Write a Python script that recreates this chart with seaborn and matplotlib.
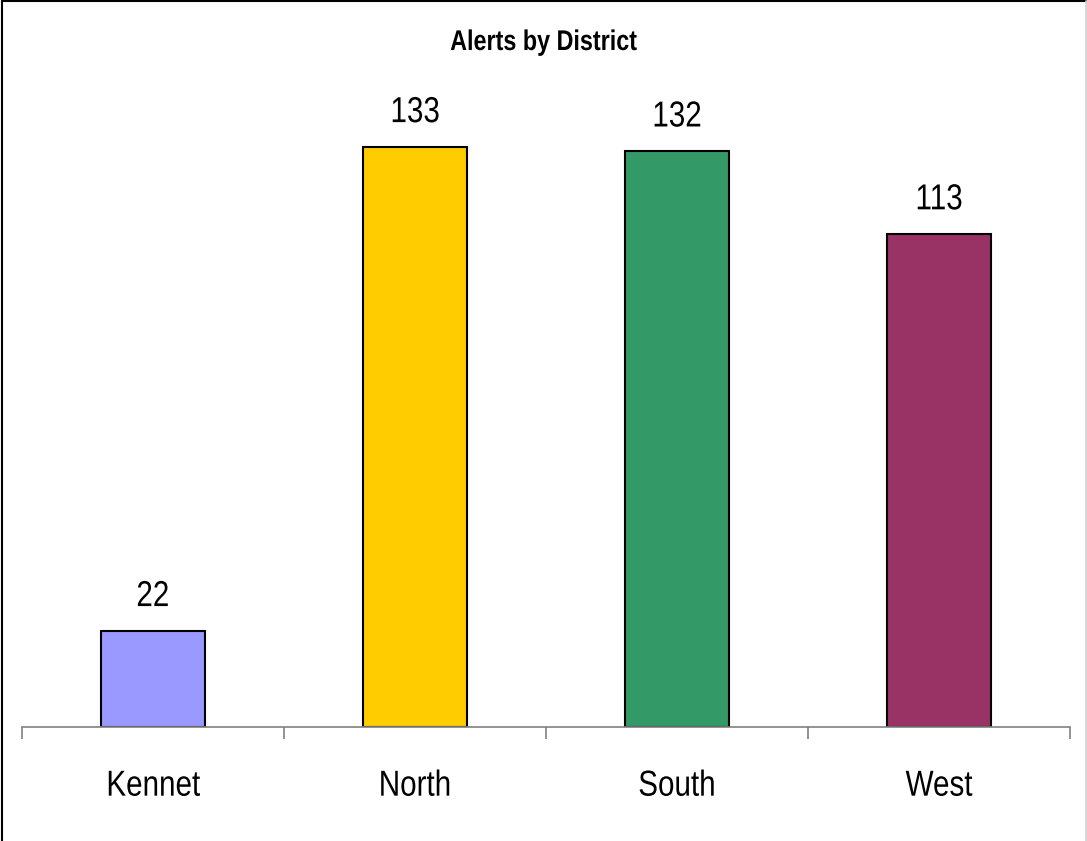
import matplotlib
matplotlib.use("Agg")
import matplotlib.pyplot as plt
from matplotlib.lines import Line2D
from matplotlib import patheffects
from matplotlib.transforms import Affine2D
import seaborn as sns
import pandas as pd

districts = ["Kennet", "North", "South", "West"]
alerts = [22, 133, 132, 113]
colors = ["#9999FF", "#FFCC00", "#339966", "#993366"]
title = "Alerts by District"


class Condense(patheffects.AbstractPathEffect):
    """Squeeze text horizontally about its own centre (narrow typeface look)."""

    def __init__(self, sx=0.82):
        super().__init__()
        self._sx = sx

    def draw_path(self, renderer, gc, tpath, affine, rgbFace=None):
        ext = tpath.get_extents(affine)
        cx = (ext.x0 + ext.x1) / 2
        squeeze = Affine2D().translate(-cx, 0).scale(self._sx, 1).translate(cx, 0)
        renderer.draw_path(gc, tpath, affine + squeeze, rgbFace)


narrow = [Condense(0.82)]

sns.set_theme(style="white")
plt.rcParams["font.family"] = ["Liberation Sans", "DejaVu Sans"]

df = pd.DataFrame({"district": districts, "alerts": alerts})

W, H = 1087, 841
fig = plt.figure(figsize=(W / 100, H / 100), dpi=100)
fig.patch.set_facecolor("white")

# plot area: baseline at y=727 px, x from 22 to 1070 px
ax = fig.add_axes([22 / W, (H - 727) / H, (1070 - 22) / W, 697.6 / H])
sns.barplot(data=df, x="district", y="alerts", hue="district",
            palette=colors, legend=False, width=0.4,
            edgecolor="black", linewidth=1.5, saturation=1, ax=ax)

ax.set_xlim(-0.5, len(districts) - 0.5)
ax.set_ylim(0, 160)
ax.set_xlabel("")
ax.set_ylabel("")
ax.set_yticks([])
for side in ["top", "right", "left"]:
    ax.spines[side].set_visible(False)
ax.spines["bottom"].set_color("#808080")
ax.spines["bottom"].set_linewidth(1.2)
ax.patch.set_alpha(0)

# category labels without ticks; boundary ticks as minor ticks
ax.tick_params(axis="x", which="major", bottom=False, length=0, pad=30,
               labelsize=26, labelcolor="black")
ax.set_xticks([i - 0.5 for i in range(len(districts) + 1)], minor=True)
ax.tick_params(axis="x", which="minor", bottom=True, length=8.6, width=1.2,
               color="#808080", direction="out")
for lbl in ax.get_xticklabels():
    lbl.set_path_effects(narrow)

for i, v in enumerate(alerts):
    ax.annotate(str(v), xy=(i, v), xytext=(0, 18), textcoords="offset points",
                ha="center", va="baseline", fontsize=26, color="black",
                path_effects=narrow)

fig.text(0.5, (H - 43) / H, title, ha="center", va="center",
         fontsize=20.5, fontweight="bold", color="black", path_effects=narrow)

# frame around the chart area
fig.add_artist(Line2D([2 / W, 2 / W], [0, 1 - 1 / H], color="black", lw=1.5))
fig.add_artist(Line2D([2 / W, 1086 / W], [1 - 1 / H, 1 - 1 / H], color="black", lw=1.5))
fig.add_artist(Line2D([1085.5 / W, 1085.5 / W], [0, 1 - 1 / H], color="#D0D0D0", lw=1.2))

fig.savefig("out.png", dpi=100, facecolor="white")
